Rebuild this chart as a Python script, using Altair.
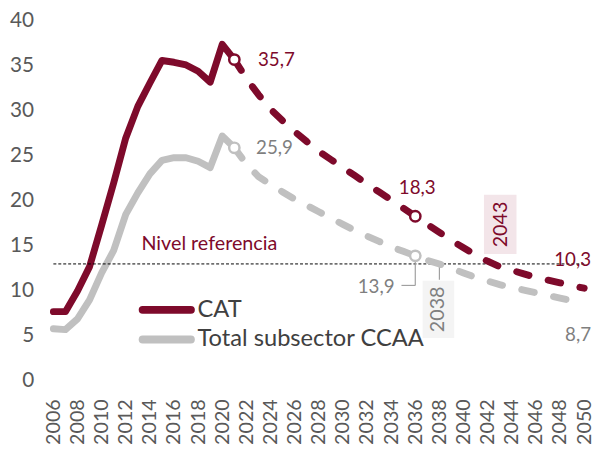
import altair as alt
import pandas as pd

RED = "#7E0A2B"
GRAY = "#C0C0C0"
GRAY_TXT = "#7F7F7F"
AX_TXT = "#595959"
FONT = "Lato"

series = ["CAT", "Total subsector CCAA"]

years_hist = list(range(2006, 2022))
cat_hist = [7.7, 7.7, 10.0, 12.7, 17.3, 22.0, 27.0, 30.5, 33.1, 35.6, 35.4, 35.1, 34.4, 33.2, 37.4, 35.7]
ccaa_hist = [5.8, 5.7, 6.9, 9.0, 12.0, 14.5, 18.5, 20.9, 23.0, 24.5, 24.8, 24.8, 24.4, 23.7, 27.2, 25.9]

years_proj = list(range(2021, 2051))
cat_proj = [35.7, 33.6, 31.8, 30.2, 28.9, 27.7, 26.6, 25.5, 24.6, 23.7, 22.8, 21.9, 21.0, 20.1, 19.2, 18.3,
            17.4, 16.5, 15.6, 14.8, 14.0, 13.3, 12.7, 12.3, 11.9, 11.5, 11.2, 10.9, 10.6, 10.3]
ccaa_proj = [25.9, 24.1, 22.7, 21.8, 21.0, 20.2, 19.5, 18.8, 18.1, 17.4, 16.7, 16.1, 15.5, 14.9, 14.4, 13.9,
             13.4, 13.0, 12.5, 12.0, 11.5, 11.1, 10.7, 10.4, 10.1, 9.8, 9.5, 9.2, 8.9, 8.7]

ref_level = 13
ref_label = "Nivel referencia"

x_ticks = list(range(2006, 2051, 2))
y_ticks = [0, 5, 10, 15, 20, 25, 30, 35, 40]

# legend anchor (data space)
leg_x0, leg_x1, leg_tx = 2013.4, 2017.4, 2017.95
leg_y = [7.9, 4.6]

hist = pd.DataFrame({
    "year": years_hist * 2,
    "value": cat_hist + ccaa_hist,
    "series": [series[0]] * len(years_hist) + [series[1]] * len(years_hist),
    "col": [RED] * len(years_hist) + [GRAY] * len(years_hist),
})
proj = pd.DataFrame({
    "year": years_proj * 2,
    "value": cat_proj + ccaa_proj,
    "series": [series[0]] * len(years_proj) + [series[1]] * len(years_proj),
    "col": [RED] * len(years_proj) + [GRAY] * len(years_proj),
})

xs = alt.Scale(domain=[2006, 2050], nice=False, zero=False)
ys = alt.Scale(domain=[0, 40], nice=False)
X = alt.X("year:Q", scale=xs, title=None,
          axis=alt.Axis(values=x_ticks, tickCount=len(x_ticks) + 2, format="d"))
Y = alt.Y("value:Q", scale=ys, title=None,
          axis=alt.Axis(values=y_ticks, tickCount=len(y_ticks) + 2))

base_x = alt.X("year:Q", scale=xs, title=None)
base_y = alt.Y("value:Q", scale=ys, title=None)

# reference line
ref_df = pd.DataFrame({"value": [ref_level], "year": [2013.3], "label": [ref_label]})
ref_rule = alt.Chart(ref_df).mark_rule(color="black", strokeDash=[3, 2], strokeWidth=1).encode(y=base_y)
ref_text = alt.Chart(ref_df).mark_text(align="left", baseline="middle", font=FONT, fontSize=20,
                                       color=RED, yOffset=-20).encode(x=base_x, y=base_y, text="label:N")

# boxes for crossing years
box43 = pd.DataFrame({"year": [2043], "value": [ref_level], "label": ["2043"]})
box38 = pd.DataFrame({"year": [2038], "value": [ref_level], "label": ["2038"]})
rect43 = alt.Chart(box43).mark_rect(color="#F3E5E9", xOffset=-16, x2Offset=17, yOffset=-70, y2Offset=-10).encode(
    x=base_x, x2="year:Q", y=base_y, y2="value:Q")
rect38 = alt.Chart(box38).mark_rect(color="#F4F4F4", xOffset=-17, x2Offset=15, yOffset=17, y2Offset=75).encode(
    x=base_x, x2="year:Q", y=base_y, y2="value:Q")
txt43 = alt.Chart(box43).mark_text(angle=270, align="center", baseline="middle", font=FONT, fontSize=20,
                                   color=RED, xOffset=1, yOffset=-40).encode(x=base_x, y=base_y, text="label:N")
txt38 = alt.Chart(box38).mark_text(angle=270, align="center", baseline="middle", font=FONT, fontSize=20,
                                   color=GRAY_TXT, xOffset=-1, yOffset=46).encode(x=base_x, y=base_y, text="label:N")
lead38 = alt.Chart(box38).mark_rule(color="#A0A0A0", strokeWidth=1.2, yOffset=2, y2Offset=16).encode(
    x=base_x, y=base_y, y2="value:Q")

# lines
hist_line = alt.Chart(hist).mark_line(strokeWidth=7, strokeCap="round", strokeJoin="round").encode(
    x=X, y=Y, color=alt.Color("col:N", scale=None), detail="series:N")
proj_line = alt.Chart(proj).mark_line(strokeWidth=7, strokeCap="round", strokeDash=[13, 20]).encode(
    x=base_x, y=base_y, color=alt.Color("col:N", scale=None), detail="series:N")

# manual legend
leg_df = pd.DataFrame({"series": series, "col": [RED, GRAY], "value": leg_y,
                       "x0": [leg_x0] * 2, "x1": [leg_x1] * 2, "tx": [leg_tx] * 2})
leg_rule = alt.Chart(leg_df).mark_rule(strokeWidth=8, strokeCap="round").encode(
    x=alt.X("x0:Q", scale=xs), x2="x1:Q", y=base_y, color=alt.Color("col:N", scale=None))
leg_text = alt.Chart(leg_df).mark_text(align="left", baseline="middle", font=FONT, fontSize=24,
                                       color="#404040").encode(
    x=alt.X("tx:Q", scale=xs), y=base_y, text="series:N")

# marker points
pts = pd.DataFrame({
    "year": [2021, 2021, 2036, 2036],
    "value": [cat_proj[0], ccaa_proj[0], cat_proj[15], ccaa_proj[15]],
    "col": [RED, GRAY, RED, GRAY],
})
points = alt.Chart(pts).mark_point(filled=True, fill="white", size=110, strokeWidth=2.5, opacity=1).encode(
    x=base_x, y=base_y, stroke=alt.Color("col:N", scale=None))

# leader for 13,9
lead_df = pd.DataFrame({"year": [2036], "value": [ccaa_proj[15]]})
lead_v = alt.Chart(lead_df).mark_rule(color="#A0A0A0", strokeWidth=1.2, yOffset=6, y2Offset=30).encode(
    x=base_x, y=base_y, y2="value:Q")
lead_h = alt.Chart(lead_df).mark_rule(color="#A0A0A0", strokeWidth=1.2, xOffset=-14, x2Offset=0,
                                      yOffset=30, y2Offset=30).encode(x=base_x, x2="year:Q", y=base_y)


def vlabel(year, value, text, color, align, xo, yo):
    d = pd.DataFrame({"year": [year], "value": [value], "label": [text]})
    return alt.Chart(d).mark_text(align=align, baseline="middle", font=FONT, fontSize=19, color=color,
                                  xOffset=xo, yOffset=yo).encode(x=base_x, y=base_y, text="label:N")


labels = [
    vlabel(2021, cat_proj[0], "35,7", RED, "left", 24, 1),
    vlabel(2021, ccaa_proj[0], "25,9", GRAY_TXT, "left", 22, 0),
    vlabel(2036, cat_proj[15], "18,3", RED, "center", 2, -29),
    vlabel(2036, ccaa_proj[15], "13,9", GRAY_TXT, "right", -21, 32),
    vlabel(2050, cat_proj[-1], "10,3", RED, "right", 7, -29),
    vlabel(2050, ccaa_proj[-1], "8,7", GRAY_TXT, "right", 7, 33),
]

chart = alt.layer(
    hist_line, rect43, rect38, ref_rule, ref_text, lead38, txt43, txt38,
    proj_line, lead_v, lead_h, points, leg_rule, leg_text, *labels
).properties(
    width=538, height=365,
    padding={"left": 46, "top": 10, "right": 12, "bottom": 72},
    autosize=alt.AutoSizeParams(type="none"),
    background="white",
).configure_view(stroke=None).configure_axis(
    domain=False, ticks=False, grid=False, labelFont=FONT, labelColor=AX_TXT
).configure_axisX(
    labelAngle=270, labelFontSize=20, labelPadding=18, labelFlush=False, labelOverlap=False
).configure_axisY(
    labelFontSize=21, labelPadding=20
)

chart.save("out.html", embed_options={"renderer": "svg", "actions": False})
